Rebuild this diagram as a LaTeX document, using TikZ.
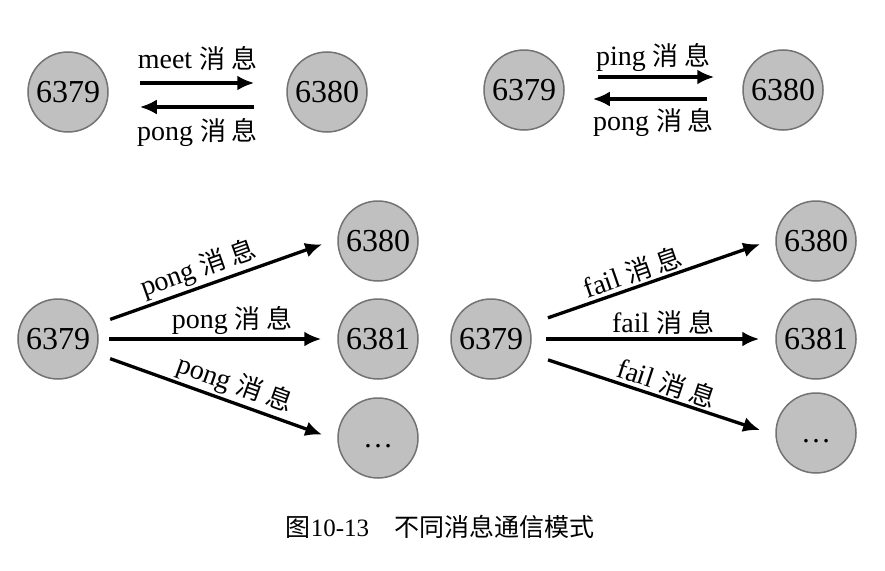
\documentclass[tikz,border=0pt]{standalone}
\usepackage{fontspec}
\setmainfont{Liberation Serif}
\newfontfamily\cjk{Noto Sans CJK SC}
\newfontfamily\capfont{Liberation Serif}
\usetikzlibrary{arrows.meta}
\definecolor{nodefill}{RGB}{192,192,192}
\definecolor{nodeline}{RGB}{115,115,115}
\newcommand\xiaoxi{{\cjk\fontsize{26}{26}\selectfont 消\hspace{6pt}息}}
\begin{document}
\begin{tikzpicture}[x=1pt,y=-1pt,
 srv/.style={circle, fill=nodefill, draw=nodeline, line width=1.5pt, minimum size=80pt, inner sep=0pt, font=\fontsize{32}{32}\selectfont},
 dotsrv/.style={srv, font=\fontsize{30}{30}\selectfont},
 arr/.style={line width=3.3pt, -{Latex[length=17pt,width=15pt]}},
 lbl/.style={font=\fontsize{28}{28}\selectfont, inner sep=0pt}]
\useasboundingbox (0,0) rectangle (885,570);
\fill[white] (0,0) rectangle (885,570);

% top left
\node[srv] (a1) at (68,92) {6379};
\node[srv] (b1) at (327,92) {6380};
\draw[arr, shorten <=31pt, shorten >=32pt] ([yshift=9pt]a1.east) -- node[lbl, above=11pt]{meet \xiaoxi} ([yshift=9pt]b1.west);
\draw[arr, shorten <=32pt, shorten >=31pt] ([yshift=-15pt]b1.west) -- node[lbl, below=10pt]{pong \xiaoxi} ([yshift=-15pt]a1.east);

% top right
\node[srv] (a2) at (524,90) {6379};
\node[srv] (b2) at (783,90) {6380};
\draw[arr, shorten <=33pt, shorten >=28pt] ([yshift=13pt]a2.east) -- node[lbl, above=4pt]{ping \xiaoxi} ([yshift=13pt]b2.west);
\draw[arr, shorten <=35pt, shorten >=28pt] ([yshift=-9pt]b2.west) -- node[lbl, below=8pt]{pong \xiaoxi} ([yshift=-9pt]a2.east);

% bottom left
\node[srv] (c0) at (58,339) {6379};
\node[srv] (c1) at (378,241) {6380};
\node[srv] (c2) at (378,339) {6381};
\node[dotsrv] (c3) at (378,438) {\raisebox{-9pt}[0pt][0pt]{\ldots}};
\draw[arr, shorten <=15pt, shorten >=16pt] (c0.21) -- node[lbl, pos=0.45, sloped, above=2pt]{pong \xiaoxi} (c1.177);
\draw[arr, shorten <=10pt, shorten >=16pt] (c0) -- node[lbl, pos=0.56, above=3pt]{pong \xiaoxi} (c2);
\draw[arr, shorten <=15pt, shorten >=16pt] (c0.-21) -- node[lbl, pos=0.55, sloped, above=2pt]{pong \xiaoxi} (c3.183);

% bottom right
\node[srv] (d0) at (491,339) {6379};
\node[srv] (d1) at (816,241) {6380};
\node[srv] (d2) at (816,339) {6381};
\node[dotsrv] (d3) at (816,433) {\raisebox{-9pt}[0pt][0pt]{\ldots}};
\draw[arr, shorten <=20pt, shorten >=16pt] (d0.21) -- node[lbl, pos=0.44, sloped, above=2pt]{fail \xiaoxi} (d1.177);
\draw[arr, shorten <=14pt, shorten >=16pt] (d0) -- node[lbl, pos=0.54, above=3pt]{fail \xiaoxi} (d2);
\draw[arr, shorten <=20pt, shorten >=16pt] (d0.-21) -- node[lbl, pos=0.54, sloped, above=2pt]{fail \xiaoxi} (d3.183);

% caption
\node[font=\fontsize{25}{25}\selectfont, inner sep=0pt] (cap) at (440,527) {{\cjk 图}{\capfont 10-13}\hspace{1em}{\cjk 不同消息通信模式}};
\end{tikzpicture}
\end{document}
